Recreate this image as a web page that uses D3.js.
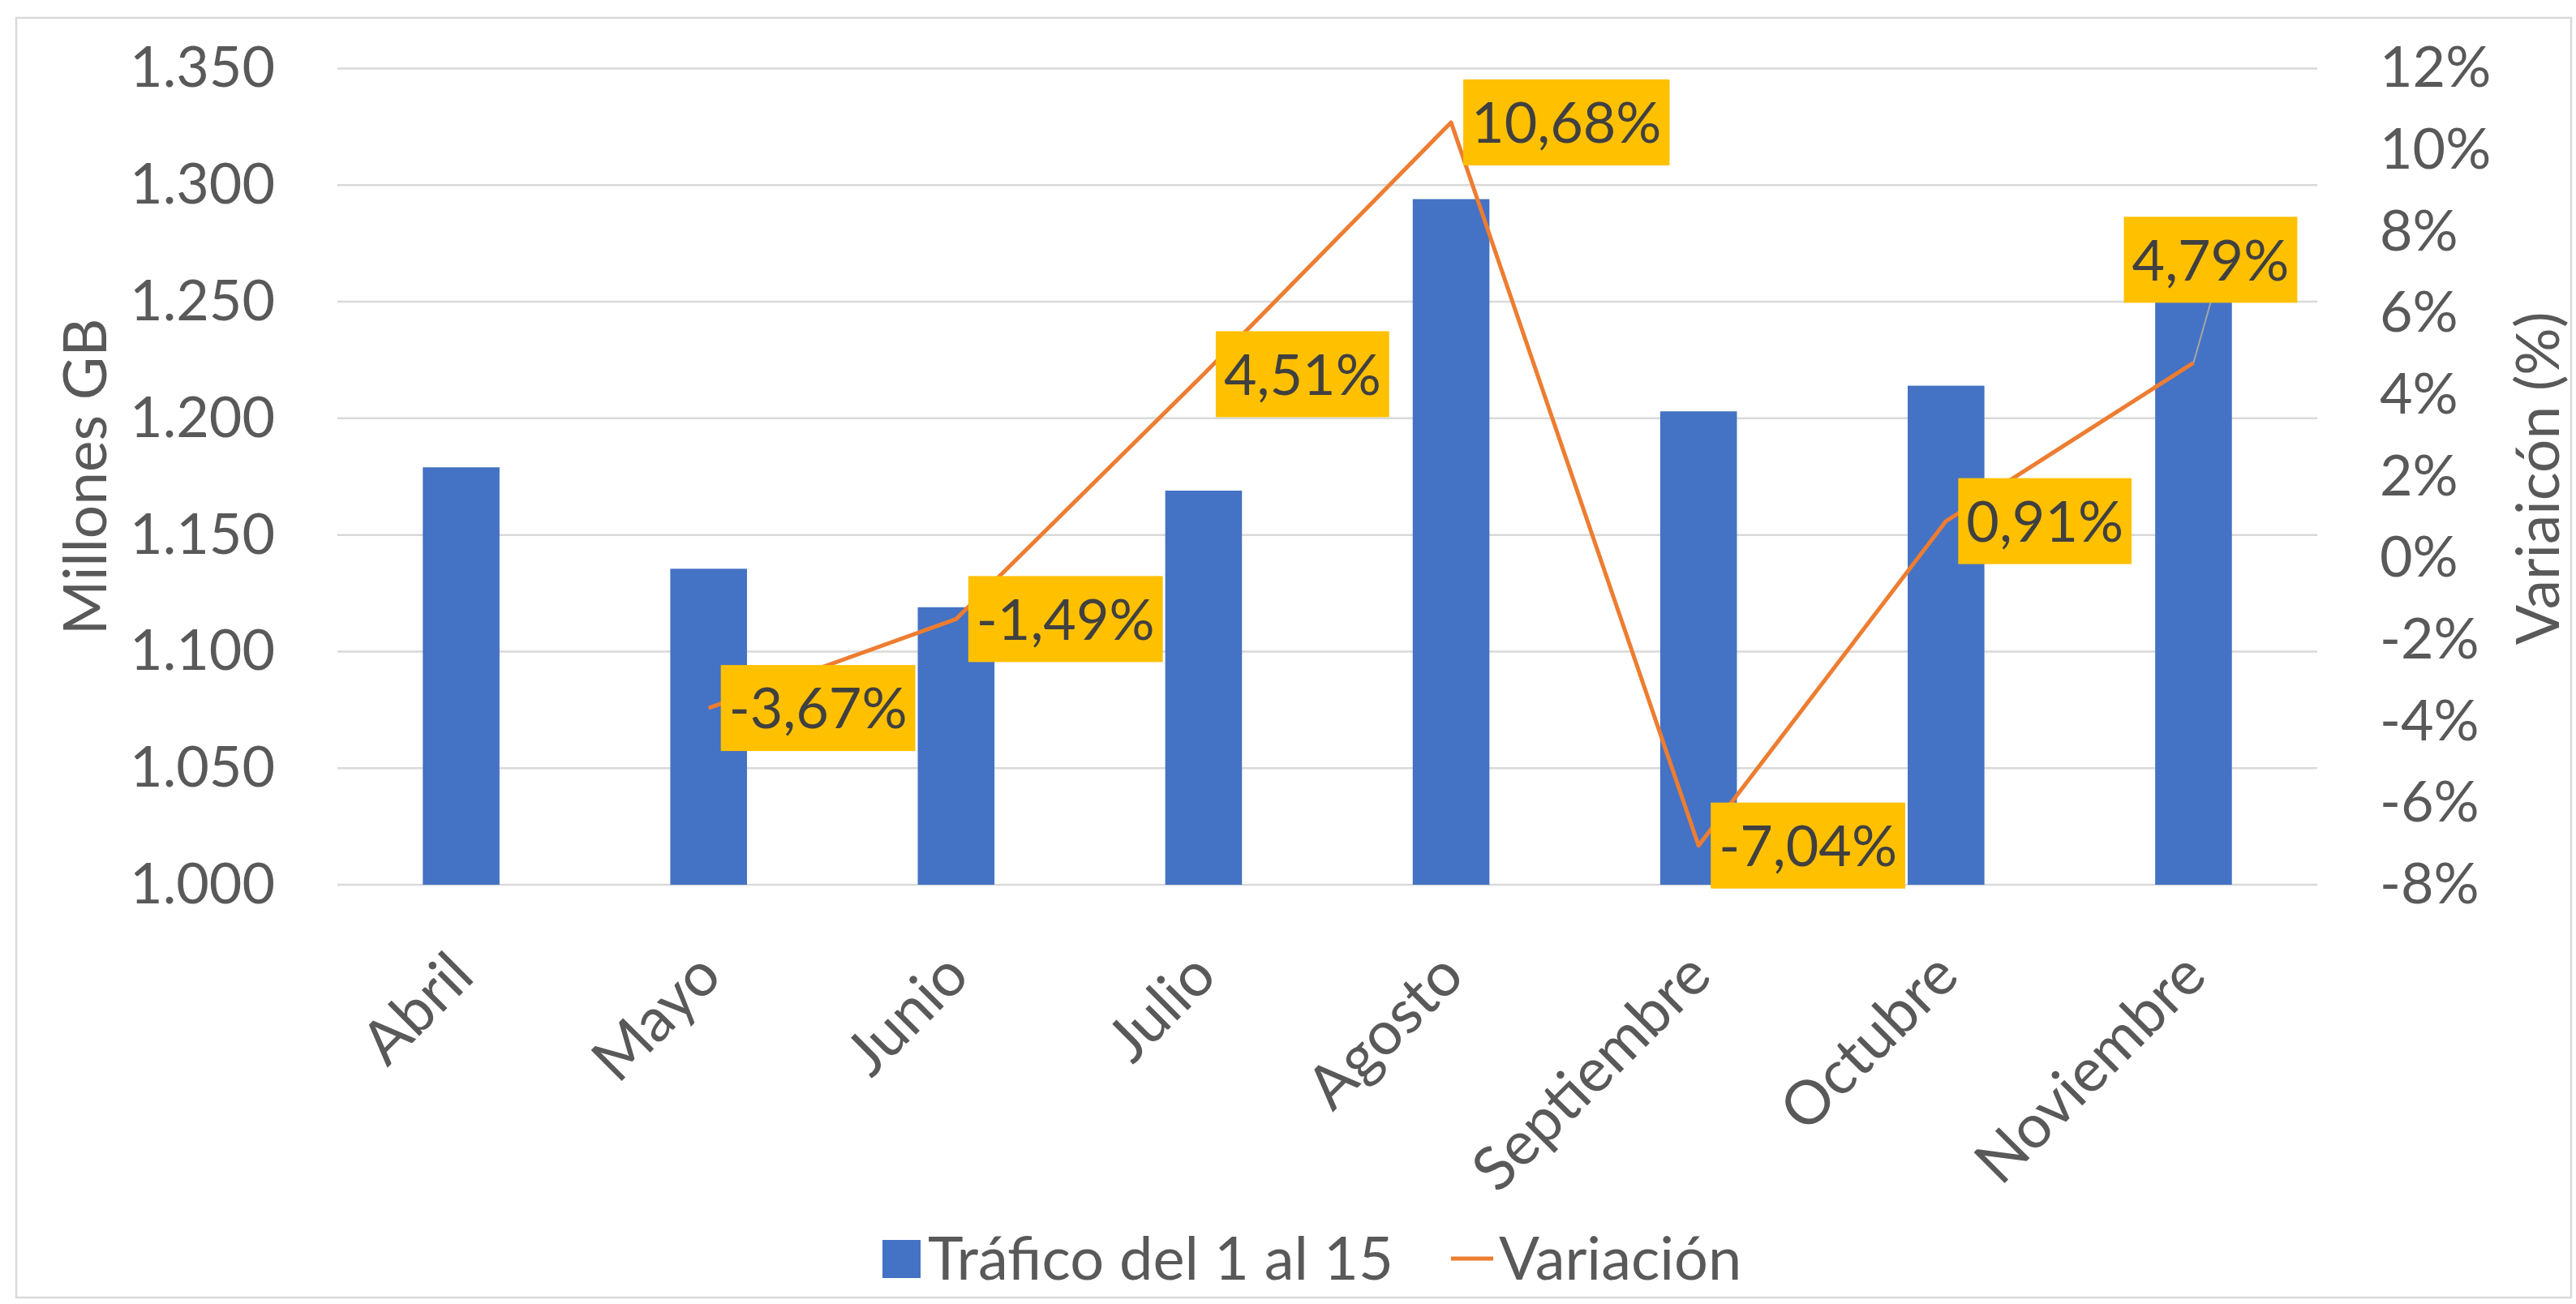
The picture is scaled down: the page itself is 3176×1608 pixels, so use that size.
<!DOCTYPE html>
<html><head><meta charset="utf-8">
<script src="https://cdn.jsdelivr.net/npm/d3@7"></script>
<style>
html,body{margin:0;padding:0;background:#fff;}
svg{display:block;}
text{font-family:Lato,"Open Sans",sans-serif;}
</style></head><body>
<svg id="chart" width="3176" height="1608"></svg>
<script>
// ---- data ----
const months = ["Abril","Mayo","Junio","Julio","Agosto","Septiembre","Octubre","Noviembre"];
const traffic = [1179, 1135.5, 1119, 1169, 1294, 1203, 1214, 1272];
const variation = [null, -3.67, -1.49, 4.51, 10.68, -7.04, 0.91, 4.79];
const leftTicks = [1000,1050,1100,1150,1200,1250,1300,1350];
const rightTicks = [-8,-6,-4,-2,0,2,4,6,8,10,12];
const seriesNames = ["Tráfico del 1 al 15","Variación"];
const axisTitles = ["Millones GB","Variaicón (%)"];

// ---- layout ----
const W = 3176, H = 1608;
const M = {left:416, right:2857, top:84.5, bottom:1091};
const FS = 70, FS_CAT = 75, FS_LEG = 74, FS_TITLE = 73;
const C = {bar:"#4472C4", line:"#ED7D31", grid:"#D9D9D9", text:"#595959", label:"#404040", box:"#FFC000", leader:"#A6A6A6"};

const loc = d3.formatLocale({decimal:",", thousands:".", grouping:[3], currency:["",""], minus:"-"});
const fmtLeft = loc.format(",");
const fmtPct = d => loc.format(".2f")(d) + "%";
const fmtRight = d => loc.format("d")(d) + "%";

const svg = d3.select("#chart");
svg.append("rect").attr("width",W).attr("height",H).attr("fill","#fff");
svg.append("rect").attr("x",20).attr("y",22).attr("width",3150).attr("height",1578)
  .attr("fill","none").attr("stroke",C.grid).attr("stroke-width",2.5);

const x = d3.scaleBand().domain(months).range([M.left, M.right]).paddingInner(0.69).paddingOuter(0.345);
const yL = d3.scaleLinear().domain([1000,1350]).range([M.bottom, M.top]);
const yR = d3.scaleLinear().domain([-8,12]).range([M.bottom, M.top]);
const cx = m => x(m) + x.bandwidth()/2;

// gridlines
svg.append("g").selectAll("line").data(leftTicks).join("line")
  .attr("x1",M.left).attr("x2",M.right)
  .attr("y1",d=>yL(d)).attr("y2",d=>yL(d))
  .attr("stroke",C.grid).attr("stroke-width",2.5);

// left axis
const gL = svg.append("g").attr("transform",`translate(${M.left},0)`)
  .call(d3.axisLeft(yL).tickValues(leftTicks).tickFormat(fmtLeft).tickSize(0).tickPadding(77));
gL.select(".domain").remove();
gL.selectAll("text").attr("font-size",FS).attr("fill",C.text).attr("font-family","Lato");

// right axis
const gR = svg.append("g").attr("transform",`translate(${M.right},0)`)
  .call(d3.axisRight(yR).tickValues(rightTicks).tickFormat(fmtRight).tickSize(0).tickPadding(77));
gR.select(".domain").remove();
gR.selectAll("text").attr("font-size",FS).attr("fill",C.text).attr("font-family","Lato");

// bars
svg.append("g").selectAll("rect").data(months).join("rect")
  .attr("x",m=>x(m)).attr("width",x.bandwidth())
  .attr("y",(m,i)=>yL(traffic[i])).attr("height",(m,i)=>yL(1000)-yL(traffic[i]))
  .attr("fill",C.bar);

// x labels
svg.append("g").selectAll("text").data(months).join("text")
  .attr("transform",m=>`translate(${cx(m)+19},1207) rotate(-45)`)
  .attr("text-anchor","end").attr("font-size",FS_CAT).attr("fill",C.text).text(m=>m);

// line
const pts = months.map((m,i)=>({m, v:variation[i], i})).filter(d=>d.v!==null);
svg.append("path").datum(pts)
  .attr("d", d3.line().x(d=>cx(d.m)).y(d=>yR(d.v)))
  .attr("fill","none").attr("stroke",C.line).attr("stroke-width",5).attr("stroke-linejoin","round");

// data labels
const gLab = svg.append("g");
pts.forEach((d,k)=>{
  const px = cx(d.m), py = yR(d.v);
  const g = gLab.append("g");
  const t = g.append("text").attr("font-size",FS).attr("fill",C.label).text(fmtPct(d.v));
  const tw = t.node().getComputedTextLength();
  const bw = tw + 20, bh = 106;
  let bx, by;
  const last = k === pts.length-1;
  if (last) { bx = px + 21 - bw/2; by = py - 74 - bh; }
  else { bx = px + 15; by = py - bh/2; }
  if (last) {
    g.insert("line","text").attr("x1",px).attr("y1",py).attr("x2",px+21).attr("y2",by+bh)
      .attr("stroke",C.leader).attr("stroke-width",2);
  }
  g.insert("rect","text").attr("x",bx).attr("y",by).attr("width",bw).attr("height",bh).attr("fill",C.box);
  t.attr("x",bx+10).attr("y",by+bh/2).attr("dy","0.36em");
});

// axis titles
svg.append("text").attr("transform",`translate(131,588) rotate(-90)`).attr("text-anchor","middle")
  .attr("font-size",FS_TITLE).attr("fill",C.text).text(axisTitles[0]);
svg.append("text").attr("transform",`translate(3155,590) rotate(-90)`).attr("text-anchor","middle")
  .attr("font-size",FS_TITLE).attr("fill",C.text).text(axisTitles[1]);

// legend
const lg = svg.append("g");
lg.append("rect").attr("x",1088).attr("y",1529).attr("width",47).attr("height",47).attr("fill",C.bar);
lg.append("text").attr("x",1144).attr("y",1578).attr("font-size",FS_LEG).attr("fill",C.text).text(seriesNames[0]);
lg.append("line").attr("x1",1789).attr("x2",1841).attr("y1",1552).attr("y2",1552).attr("stroke",C.line).attr("stroke-width",5);
lg.append("text").attr("x",1848).attr("y",1578).attr("font-size",FS_LEG).attr("fill",C.text).text(seriesNames[1]);
</script>
</body></html>
